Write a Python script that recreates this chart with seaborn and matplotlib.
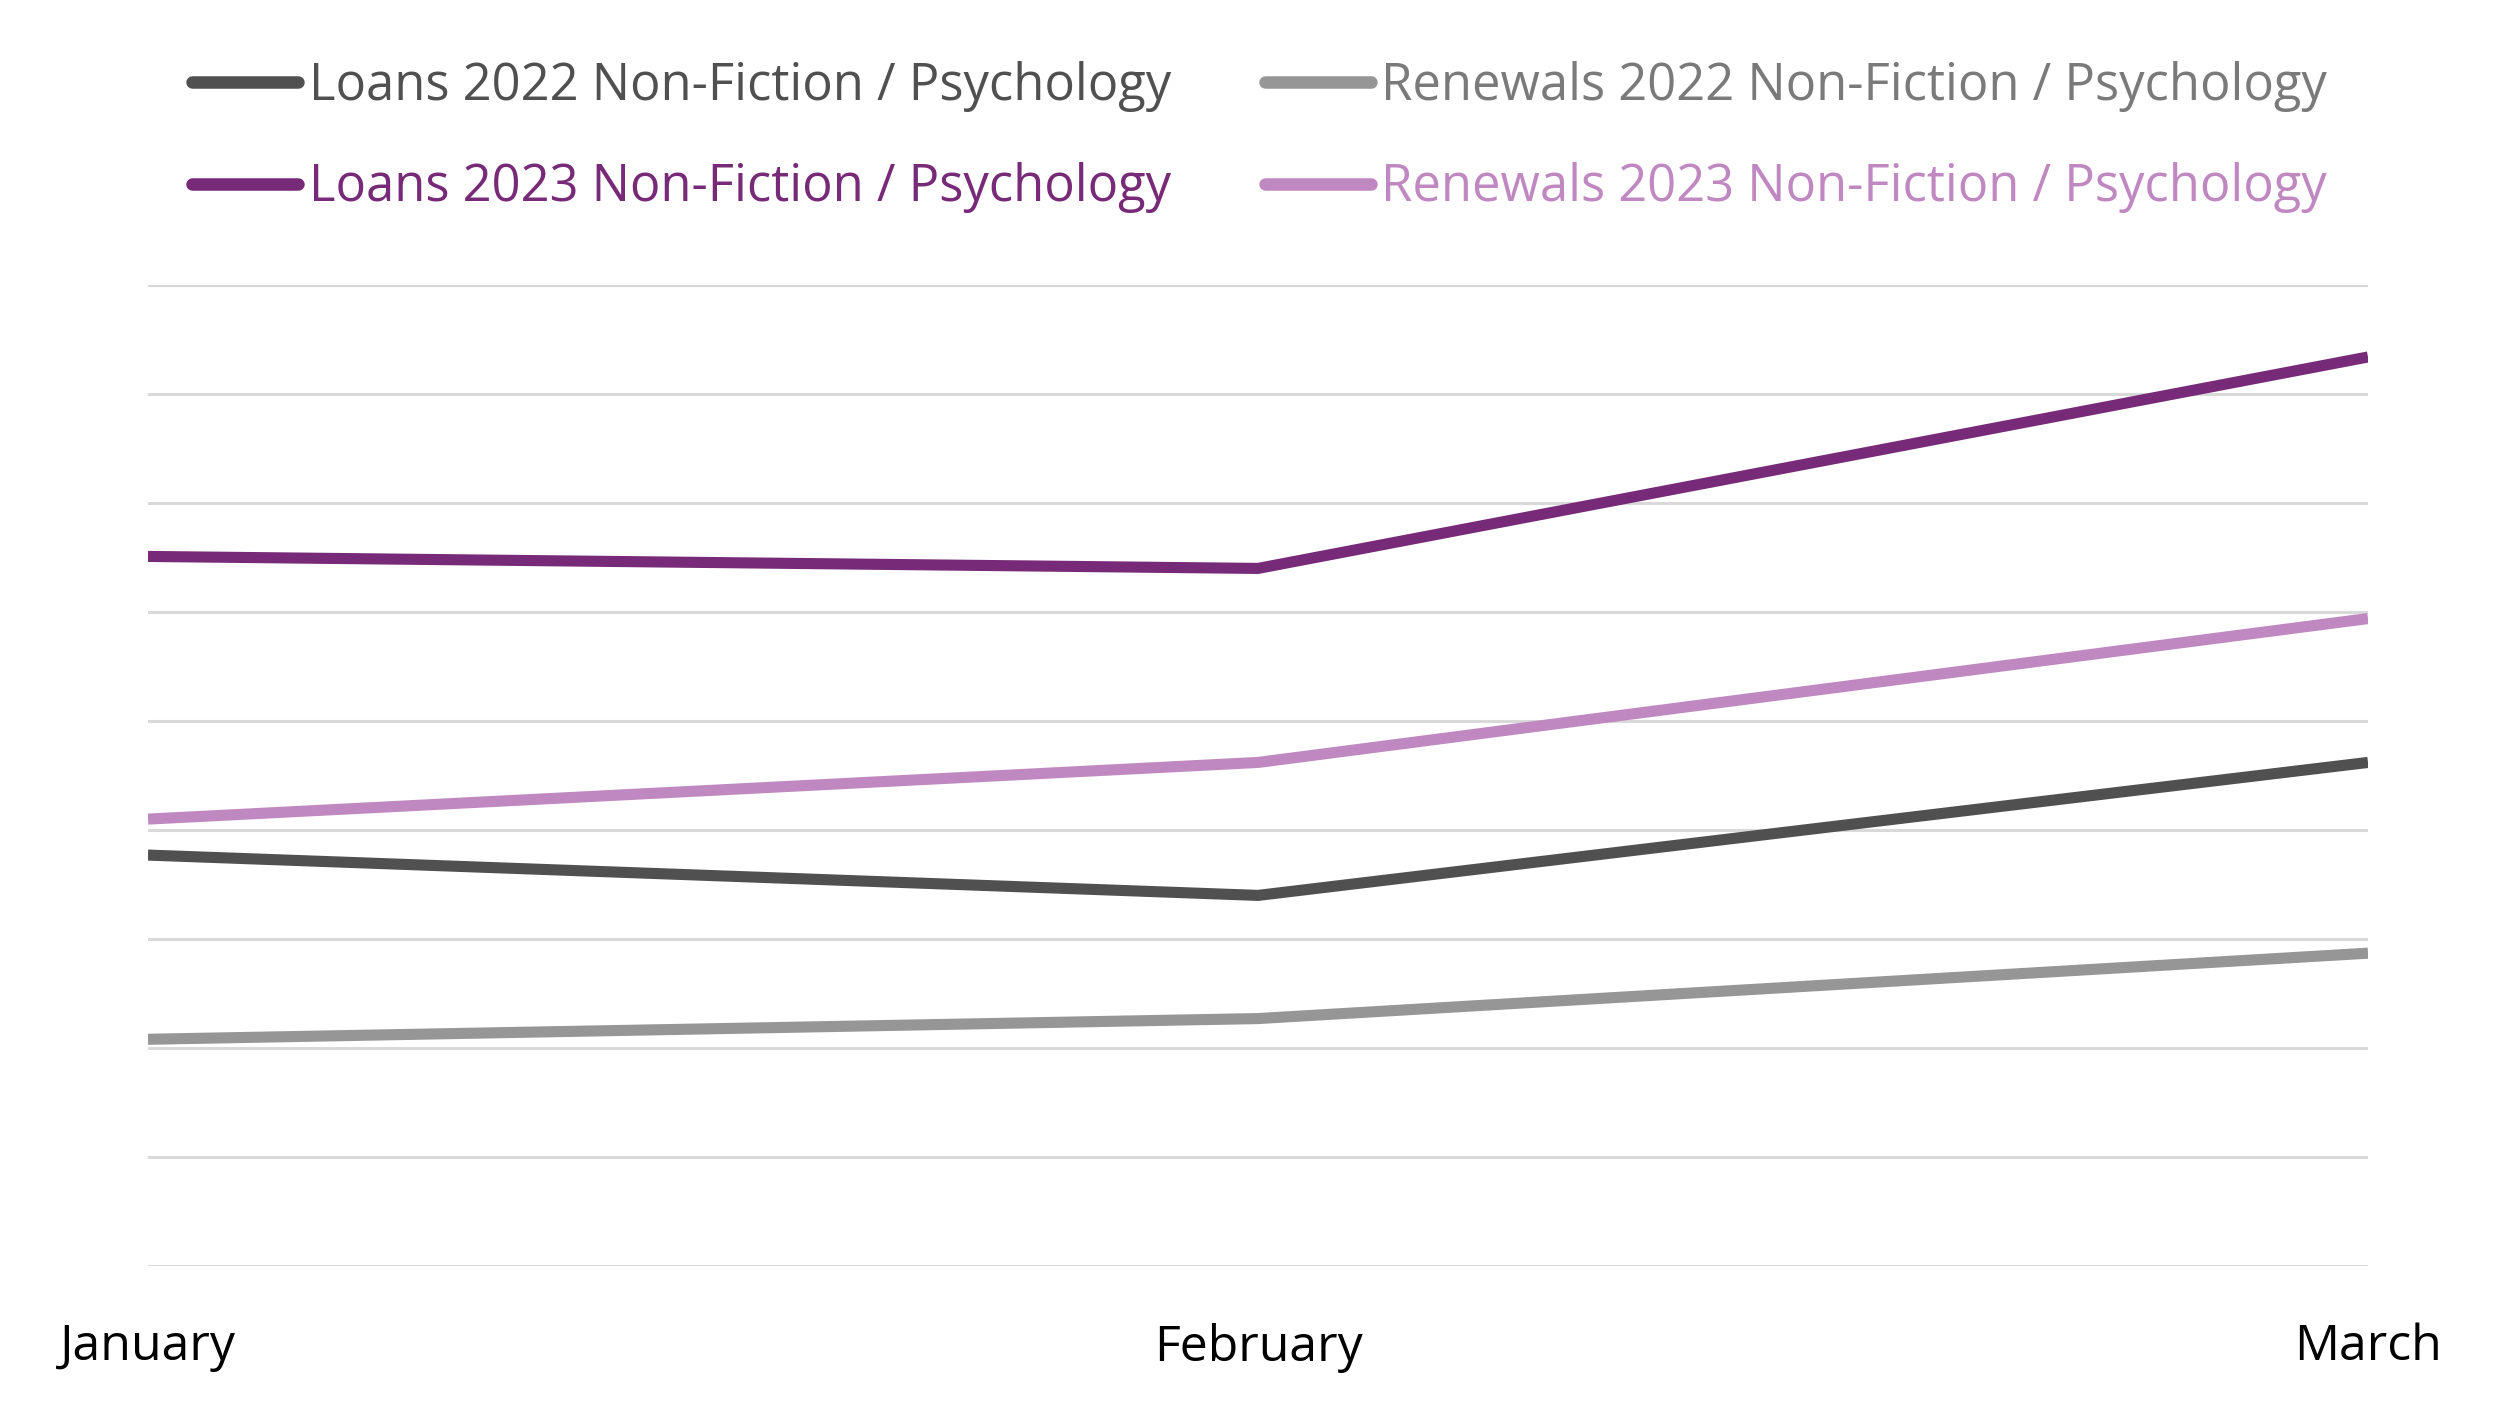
import matplotlib
matplotlib.use("Agg")
import matplotlib.pyplot as plt
import seaborn as sns
import pandas as pd
from matplotlib.lines import Line2D

months = ["January", "February", "March"]
loans_2022 = [37.7, 34.0, 46.2]
renewals_2022 = [20.8, 22.7, 28.7]
loans_2023 = [65.1, 64.0, 83.4]
renewals_2023 = [41.0, 46.2, 59.4]

series_names = [
    "Loans 2022 Non-Fiction / Psychology",
    "Renewals 2022 Non-Fiction / Psychology",
    "Loans 2023 Non-Fiction / Psychology",
    "Renewals 2023 Non-Fiction / Psychology",
]
line_colors = ["#505050", "#969696", "#772A77", "#C088C0"]
text_colors = ["#505050", "#7A7A7A", "#772A77", "#C088C0"]

sns.set_theme(style="white")
plt.rcParams["font.family"] = ["Open Sans", "DejaVu Sans"]

rows = []
for name, vals in zip(series_names, [loans_2022, renewals_2022, loans_2023, renewals_2023]):
    for m, v in zip(months, vals):
        rows.append({"Month": m, "Value": v, "Series": name})
df = pd.DataFrame(rows)

fig = plt.figure(figsize=(25, 14.09), dpi=100)
ax = fig.add_axes([0.0592, 0.1015, 0.888, 0.6962])

sns.lineplot(data=df, x="Month", y="Value", hue="Series", hue_order=series_names,
             palette=line_colors, linewidth=8, ax=ax, sort=False, legend=False)
for ln in ax.get_lines():
    ln.set_solid_capstyle("butt")
    ln.set_solid_joinstyle("miter")

ax.set_xlim(0, 2)
ax.set_ylim(0, 90)
ax.set_yticks(range(0, 91, 10))
ax.yaxis.grid(True, color="#D9D9D9", linewidth=2.2)
ax.xaxis.grid(False)
ax.set_axisbelow(True)
ax.tick_params(axis="y", left=False, labelleft=False)
ax.tick_params(axis="x", bottom=False, labelsize=36, pad=35, colors="#000000")
ax.set_xlabel("")
ax.set_ylabel("")
for s in ax.spines.values():
    s.set_visible(False)

handles = [Line2D([0], [0], color=c, linewidth=9, solid_capstyle="round") for c in line_colors]
order = [0, 2, 1, 3]
leg = fig.legend([handles[i] for i in order], [series_names[i] for i in order],
                 ncol=2, loc="upper left", bbox_to_anchor=(0.0768, 0.957),
                 frameon=False, fontsize=36.5, handlelength=2.1, handletextpad=0.2,
                 columnspacing=1.85, labelspacing=1.0, borderpad=0, borderaxespad=0)
for txt, i in zip(leg.get_texts(), order):
    txt.set_color(text_colors[i])

fig.savefig("out.png", dpi=100, facecolor="white")
